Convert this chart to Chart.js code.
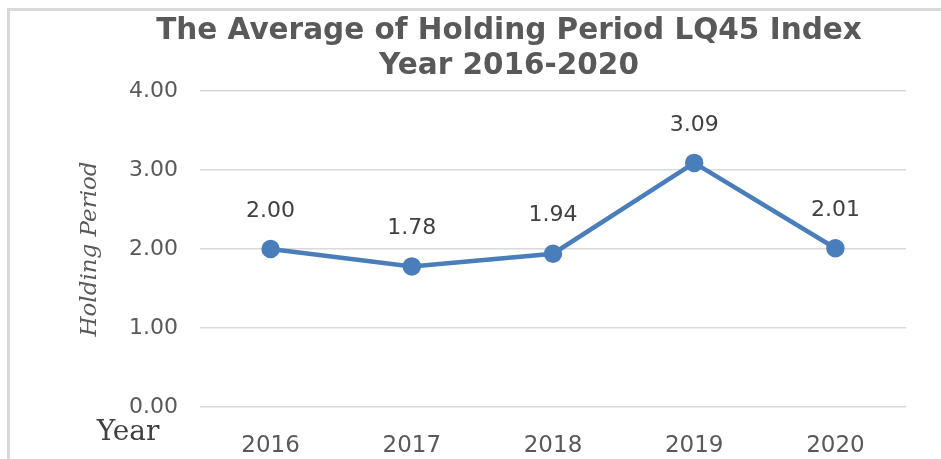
<!DOCTYPE html>
<html>
<head>
<meta charset="utf-8">
<script src="https://cdn.jsdelivr.net/npm/chart.js@4.4.1/dist/chart.umd.min.js"></script>
<style>
  html, body { margin: 0; padding: 0; background: #fff; overflow: hidden; }
  #wrap { position: relative; width: 941px; height: 459px; overflow: hidden; }
  #lineTop { position: absolute; left: 7px; top: 8px; width: 934px; height: 3px; background: #d9d9d9; }
  #lineLeft { position: absolute; left: 7px; top: 8px; width: 3px; height: 451px; background: #d9d9d9; }
  canvas { position: absolute; left: 0; top: 0; }
</style>
</head>
<body>
<div id="wrap">
  <div id="lineTop"></div>
  <div id="lineLeft"></div>
  <canvas id="chart" width="941" height="459"></canvas>
</div>
<script>
// chart data
const years = ['2016', '2017', '2018', '2019', '2020'];
const holdingPeriod = [2.00, 1.78, 1.94, 3.09, 2.01];
const titleLines = ['The Average of Holding Period LQ45 Index', 'Year 2016-2020'];

const lineBlue = '#4a7ebb';
const textGrey = '#595959';

// two-line title, centred a bit right of the canvas middle like the original
const chartTitle = {
    id: 'chartTitle',
    afterDraw(chart) {
        const ctx = chart.ctx;
        ctx.save();
        ctx.font = 'bold 29.5px "DejaVu Sans"';
        ctx.fillStyle = textGrey;
        ctx.textAlign = 'center';
        ctx.textBaseline = 'middle';
        ctx.fillText(titleLines[0], 509, 31);
        ctx.fillText(titleLines[1], 509, 66);
        ctx.restore();
    }
};

// value labels above each point
const pointLabels = {
    id: 'pointLabels',
    afterDatasetsDraw(chart) {
        const ctx = chart.ctx;
        const meta = chart.getDatasetMeta(0);
        ctx.save();
        ctx.font = '22px "DejaVu Sans"';
        ctx.fillStyle = '#404040';
        ctx.textAlign = 'center';
        ctx.textBaseline = 'middle';
        meta.data.forEach((pt, i) => {
            ctx.fillText(holdingPeriod[i].toFixed(2), pt.x, pt.y - 38);
        });
        ctx.restore();
    }
};

// "Year" caption at the lower left
const yearCaption = {
    id: 'yearCaption',
    afterDraw(chart) {
        const ctx = chart.ctx;
        ctx.save();
        ctx.font = '28px "DejaVu Serif"';
        ctx.fillStyle = '#404040';
        ctx.textAlign = 'center';
        ctx.textBaseline = 'middle';
        ctx.fillText('Year', 128, 433);
        ctx.restore();
    }
};

new Chart(document.getElementById('chart'), {
    type: 'line',
    data: {
        labels: years,
        datasets: [{
            data: holdingPeriod,
            borderColor: lineBlue,
            backgroundColor: lineBlue,
            borderWidth: 4.5,
            pointRadius: 7,
            pointHoverRadius: 7,
            tension: 0
        }]
    },
    options: {
        responsive: false,
        animation: false,
        layout: { padding: { left: 0, right: 35, top: 91, bottom: 0 } },
        plugins: {
            legend: { display: false },
            tooltip: { enabled: false },
            title: { display: false }
        },
        scales: {
            x: {
                offset: true,
                grid: { display: false },
                border: { display: false },
                ticks: {
                    color: textGrey,
                    font: { family: 'DejaVu Sans', size: 23 },
                    padding: 17
                },
                afterFit(scale) { scale.height = 52; }
            },
            y: {
                min: 0,
                max: 4,
                grid: { color: '#d9d9d9', lineWidth: 1.5, drawTicks: false },
                border: { display: false },
                ticks: {
                    stepSize: 1,
                    color: textGrey,
                    padding: 22,
                    font: { family: 'DejaVu Sans', size: 22 },
                    callback: v => v.toFixed(2)
                },
                title: {
                    display: true,
                    text: 'Holding Period',
                    color: textGrey,
                    font: { family: 'DejaVu Serif', size: 23, style: 'italic' },
                    padding: { top: 76, bottom: 0 }
                },
                afterFit(scale) { scale.width = 200; }
            }
        }
    },
    plugins: [chartTitle, pointLabels, yearCaption]
});
</script>
</body>
</html>
